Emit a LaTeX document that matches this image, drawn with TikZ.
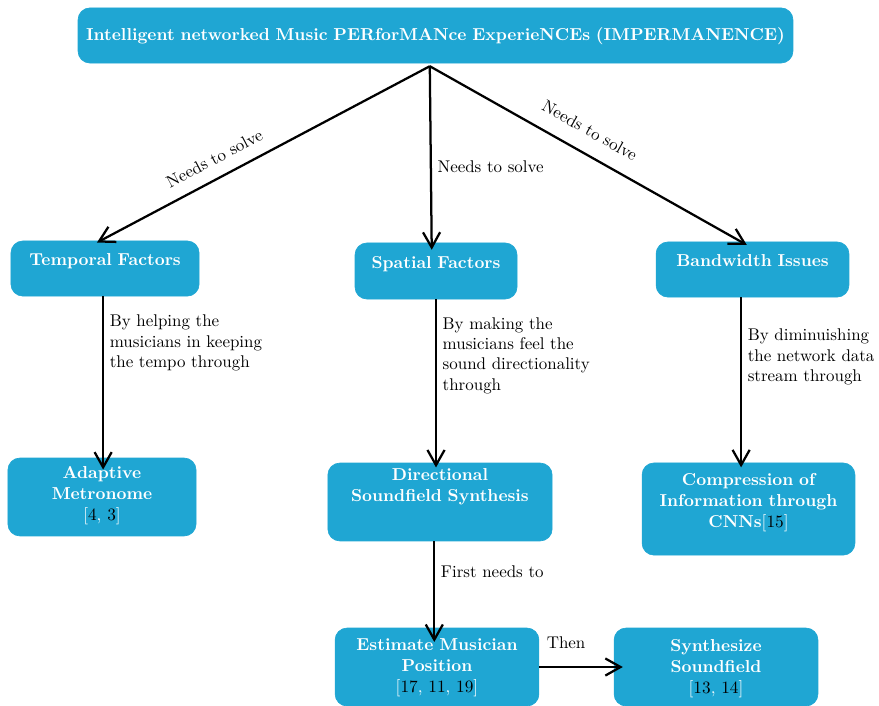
\documentclass[tikz,border=0pt]{standalone}
\usepackage{tikz}
\usetikzlibrary{positioning,arrows.meta}
\definecolor{impblue}{RGB}{31,166,211}
\tikzset{
  taskbox/.style={draw=impblue, fill=impblue, rounded corners=0.25cm, text=white, font=\fontsize{10.35}{12.6}\selectfont\bfseries, align=center, inner sep=1pt, text height=0.3cm},
  flowarrow/.style={-{Straight Barb[length=3.2mm,width=3.6mm]}, line width=1.35pt},
  edgelabel/.style={font=\fontsize{10.15}{12.2}\selectfont, align=left, text=black}
}
\newcommand{\refnum}[1]{\textcolor{black}{#1}}

\begin{document}
\begin{tikzpicture}
  \useasboundingbox (0,0) rectangle (18.505,-14.842);
  % project and the three problems
  \node[taskbox, text width=14.95cm, minimum width=15.05cm, minimum height=1.16cm, text depth=0.1cm] (imp) at (9.168,-0.747) {Intelligent networked Music PERforMANce ExperieNCEs (IMPERMANENCE)};
  \node[taskbox, text width=3.6cm, minimum width=3.96cm, minimum height=1.16cm, text depth=0.42cm] (temporal) at (2.211,-5.653) {Temporal Factors};
  \node[taskbox, text width=3.1cm, minimum width=3.41cm, minimum height=1.18cm, text depth=0.39cm] (spatial) at (9.179,-5.705) {Spatial Factors};
  \node[taskbox, text width=3.7cm, minimum width=4.06cm, minimum height=1.16cm, text depth=0.42cm] (bandwidth) at (15.842,-5.674) {Bandwidth Issues};
  % solutions
  \node[taskbox, text width=3.6cm, minimum width=3.96cm, minimum height=1.64cm, text depth=1.1cm] (metronome) at (2.147,-10.463) {Adaptive\\Metronome\\\mdseries[\refnum{4}, \refnum{3}]};
  \node[taskbox, text width=4.4cm, minimum width=4.72cm, minimum height=1.64cm, text depth=1.19cm] (directional) at (9.263,-10.568) {Directional\\Soundfield Synthesis};
  \node[taskbox, text width=4.3cm, minimum width=4.48cm, minimum height=1.94cm, text depth=1.3cm] (compression) at (15.758,-10.716) {Compression of\\Information through\\CNNs\mdseries[\refnum{15}]};
  \node[taskbox, text width=4.0cm, minimum width=4.29cm, minimum height=1.64cm, text depth=1.0cm] (position) at (9.2,-14.042) {Estimate Musician\\Position\\\mdseries[\refnum{17}, \refnum{11}, \refnum{19}]};
  \node[taskbox, text width=4.0cm, minimum width=4.29cm, minimum height=1.64cm, text depth=0.96cm] (synth) at (15.074,-14.042) {Synthesize\\Soundfield\\\mdseries[\refnum{13}, \refnum{14}]};

  \coordinate (fork) at ([xshift=-0.12cm, yshift=-0.06cm]imp.south);

  \draw[flowarrow] (fork) -- ([xshift=-0.17cm, yshift=-0.04cm]temporal.north)
    node[edgelabel, sloped, above=4pt, pos=0.62] {Needs to solve};
  \draw[flowarrow] (fork) -- ([xshift=-0.09cm, yshift=-0.15cm]spatial.north)
    node[edgelabel, anchor=west, pos=0.55] {Needs to solve};
  \draw[flowarrow] (fork) -- ([xshift=-0.12cm, yshift=-0.07cm]bandwidth.north)
    node[edgelabel, sloped, above=6pt, pos=0.47] {Needs to solve};

  \draw[flowarrow, shorten >=-0.25cm] ([xshift=-0.04cm]temporal.south) -- ([xshift=-0.04cm]temporal.south |- metronome.north)
    node[edgelabel, anchor=north west, pos=0.075] {By helping the\\musicians in keeping\\the tempo through};
  \draw[flowarrow, shorten >=-0.1cm] (spatial.south) -- (spatial.south |- directional.north)
    node[edgelabel, anchor=north west, pos=0.07] {By making the\\musicians feel the\\sound directionality\\through};
  \draw[flowarrow, shorten >=-0.1cm] ([xshift=-0.24cm]bandwidth.south) -- ([xshift=-0.24cm]bandwidth.south |- compression.north)
    node[edgelabel, anchor=north west, pos=0.15] {By diminuishing\\the network data\\stream through};

  \draw[flowarrow, shorten >=-0.3cm] ([xshift=-0.12cm]directional.south) -- ([xshift=-0.12cm]directional.south |- position.north)
    node[edgelabel, anchor=west, pos=0.35] {First needs to};
  \draw[flowarrow, shorten >=-0.19cm] (position.east) -- (position.east -| synth.west)
    node[edgelabel, above=0.25cm, pos=0.36] {Then};
\end{tikzpicture}
\end{document}
